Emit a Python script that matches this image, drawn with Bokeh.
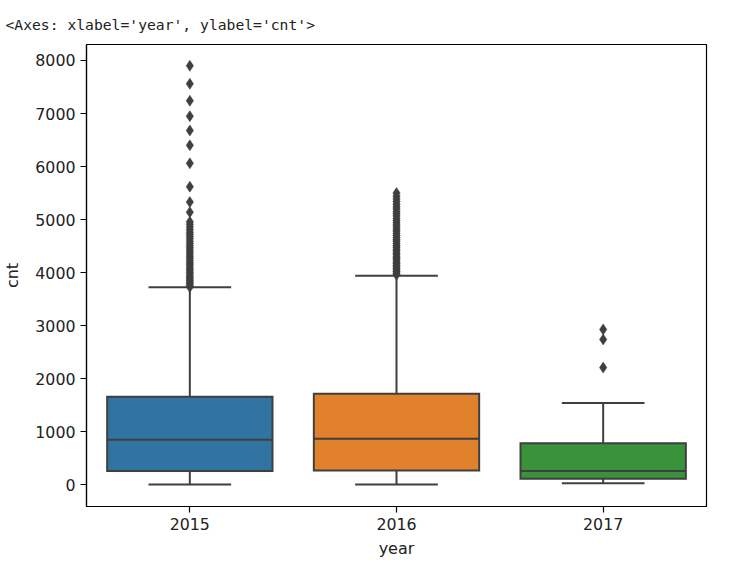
from bokeh.plotting import figure
from bokeh.models import Range1d, FixedTicker, ColumnDataSource
from bokeh.embed import file_html
from bokeh.resources import INLINE

# ---- data ----
years = ["2015", "2016", "2017"]
q1 = [260, 270, 115]
median = [850, 867, 262]
q3 = [1662, 1716, 785]
whisker_lo = [5, 5, 30]
whisker_hi = [3725, 3940, 1540]

out_2015 = [3730, 3760, 3790, 3820, 3850, 3880, 3910, 3940, 3980, 4010, 4050,
            4080, 4120, 4160, 4190, 4230, 4270, 4310, 4350, 4390, 4430, 4470,
            4510, 4550, 4590, 4640, 4680, 4720, 4760, 4810, 4860, 4910, 4960,
            5140, 5330, 5620, 6060, 6400, 6680, 6950, 7240, 7560, 7900]
out_2016 = [3960, 3990, 4020, 4050, 4080, 4110, 4140, 4170, 4200, 4240, 4270,
            4300, 4340, 4370, 4410, 4440, 4480, 4510, 4550, 4590, 4620, 4660,
            4700, 4740, 4780, 4820, 4860, 4900, 4940, 4980, 5020, 5070, 5110,
            5150, 5200, 5240, 5290, 5340, 5390, 5440, 5500]
out_2017 = [2210, 2740, 2930]
outliers = [out_2015, out_2016, out_2017]

y_ticks = [0, 1000, 2000, 3000, 4000, 5000, 6000, 7000, 8000]

# ---- styles ----
fills = ["#3274a1", "#e1812c", "#3a923a"]
edge = "#3f3f3f"
lw = 2
text_col = "#222222"

xs = list(range(len(years)))
box_w = 0.8
cap_w = 0.4

p = figure(output_backend="svg", toolbar_location=None,
           x_range=Range1d(-0.5, 2.5), y_range=Range1d(-409, 8301),
           frame_width=620, frame_height=462,
           min_border_left=81, min_border_top=44, min_border_right=20,
           min_border_bottom=50)

p.title.text = "<Axes: xlabel='year', ylabel='cnt'>"
p.title.text_font = "DejaVu Sans Mono"
p.title.text_font_size = "14.7px"
p.title.text_font_style = "normal"
p.title.text_color = text_col
p.title.align = "left"
p.title.offset = -81
p.title.standoff = 24

src = ColumnDataSource(dict(
    x=xs, q1=q1, med=median, q3=q3, lo=whisker_lo, hi=whisker_hi, fill=fills,
    xl=[x - box_w / 2 for x in xs], xr=[x + box_w / 2 for x in xs],
    cl=[x - cap_w / 2 for x in xs], cr=[x + cap_w / 2 for x in xs],
))

# whiskers
p.segment(x0="x", y0="q3", x1="x", y1="hi", source=src, line_color=edge, line_width=lw)
p.segment(x0="x", y0="q1", x1="x", y1="lo", source=src, line_color=edge, line_width=lw)
# boxes
p.vbar(x="x", width=box_w, top="q3", bottom="q1", source=src, fill_color="fill",
       line_color=edge, line_width=lw, line_join="miter")
# medians
p.segment(x0="xl", y0="med", x1="xr", y1="med", source=src, line_color=edge, line_width=lw)
# caps
p.segment(x0="cl", y0="hi", x1="cr", y1="hi", source=src, line_color=edge, line_width=lw)
p.segment(x0="cl", y0="lo", x1="cr", y1="lo", source=src, line_color=edge, line_width=lw)

# fliers
fx, fy = [], []
for x, vals in zip(xs, outliers):
    fx += [x] * len(vals)
    fy += vals
p.scatter(fx, fy, marker="diamond", size=11, fill_color=edge, line_color=edge,
          line_width=0.5)

# axes styling
p.xgrid.visible = False
p.ygrid.visible = False
p.xaxis.ticker = FixedTicker(ticks=xs)
p.xaxis.major_label_overrides = {i: y for i, y in enumerate(years)}
p.yaxis.ticker = FixedTicker(ticks=y_ticks)
p.xaxis.axis_label = "year"
p.yaxis.axis_label = "cnt"

for ax in (p.xaxis[0], p.yaxis[0]):
    ax.major_tick_out = 6
    ax.major_tick_in = 0
    ax.minor_tick_out = 0
    ax.minor_tick_in = 0
    ax.major_tick_line_color = "#000000"
    ax.major_tick_line_width = 1.2
    ax.axis_line_color = "#000000"
    ax.axis_line_width = 1.2
    ax.major_label_text_font = "DejaVu Sans"
    ax.major_label_text_font_size = "15.8px"
    ax.major_label_text_color = text_col
    ax.axis_label_text_font = "DejaVu Sans"
    ax.axis_label_text_font_size = "16px"
    ax.axis_label_text_font_style = "normal"
    ax.axis_label_text_color = text_col
    ax.major_label_standoff = 5

p.yaxis.axis_label_standoff = 10
p.xaxis.axis_label_standoff = 6

p.outline_line_color = "#000000"
p.outline_line_width = 1.2
p.outline_line_alpha = 1.0
p.background_fill_color = "white"
p.border_fill_color = "white"

open("out.html", "w").write(file_html(p, INLINE))
